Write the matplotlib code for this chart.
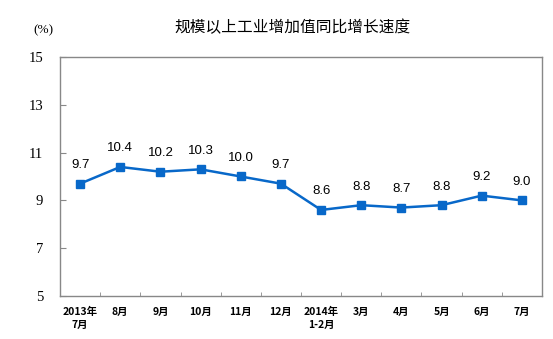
import matplotlib
matplotlib.use("Agg")
from matplotlib import pyplot as plt
import numpy as np

plt.rcParams['font.family'] = ['Noto Sans CJK SC', 'DejaVu Sans']

months = ["2013年\n7月", "8月", "9月", "10月", "11月", "12月",
          "2014年\n1-2月", "3月", "4月", "5月", "6月", "7月"]
growth = [9.7, 10.4, 10.2, 10.3, 10.0, 9.7, 8.6, 8.8, 8.7, 8.8, 9.2, 9.0]
y_ticks = [5, 7, 9, 11, 13, 15]

fig = plt.figure(figsize=(5.53, 3.39), dpi=100)
ax = fig.add_axes([60 / 553, 1 - 296 / 339, 482 / 553, 239 / 339])

x = np.arange(len(months))
ax.plot(x, growth, color='#0868c9', linewidth=1.8, marker='s', markersize=5.5)

for xi, v in zip(x, growth):
    ax.annotate(f"{v:.1f}", (xi, v), xytext=(0, 9), textcoords='offset points',
                ha='center', va='bottom', fontsize=9.5, family='Liberation Sans')

ax.set_xlim(-0.5, len(months) - 0.5)
ax.set_ylim(5, 15)

# 類別標籤放在中心，刻度線畫在類別之間
ax.set_xticks(x)
ax.set_xticklabels(months, fontsize=7.5, fontweight='bold', linespacing=1.3, va='top')
ax.set_xticks(np.arange(len(months) + 1) - 0.5, minor=True)
ax.tick_params(axis='x', which='major', length=0, pad=8)
ax.tick_params(axis='x', which='minor', direction='in', length=3, color='#888888')

ax.set_yticks(y_ticks)
ax.set_yticklabels([str(v) for v in y_ticks], family='Liberation Serif', fontsize=10.5)
ax.tick_params(axis='y', direction='in', length=4, color='#888888', pad=12)

for s in ax.spines.values():
    s.set_color('#888888')
    s.set_linewidth(1)

fig.text(293 / 553, 1 - 28 / 339, "规模以上工业增加值同比增长速度", ha='center', va='center',
         fontsize=11.3)
fig.text(43 / 553, 1 - 30 / 339, "(%)", ha='center', va='center',
         family='Liberation Serif', fontsize=9.5)

fig.savefig("out.png", dpi=100)
